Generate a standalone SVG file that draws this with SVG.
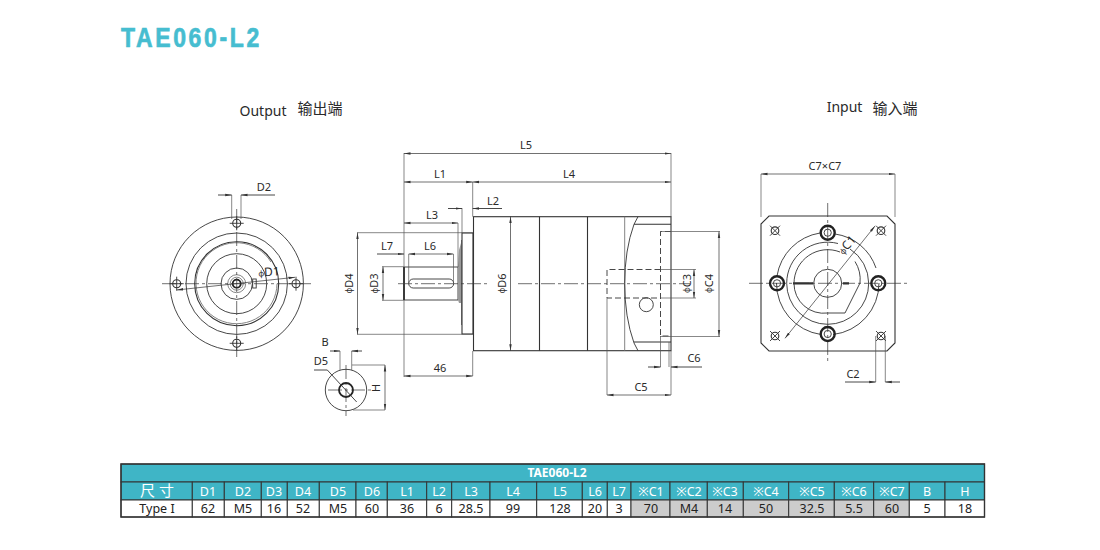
<svg xmlns="http://www.w3.org/2000/svg" width="1100" height="550" viewBox="0 0 1100 550">
<style>
text{font-family:"Noto Sans","Noto Sans CJK SC","DejaVu Sans",sans-serif;fill:#2a2a2a;font-size:11px;text-anchor:middle}
.p{font-size:8px}
.l{fill:none;stroke:#333;stroke-width:.9}
.t{fill:none;stroke:#222;stroke-width:1.8}
.m{fill:none;stroke:#333;stroke-width:1.1}
.g{fill:none;stroke:#777;stroke-width:.9}
.c{fill:none;stroke:#333;stroke-width:.7;stroke-dasharray:14 3 3 3}
.d{fill:none;stroke:#333;stroke-width:.9;stroke-dasharray:6 3}
.dim{fill:none;stroke:#333;stroke-width:.7;marker-start:url(#a);marker-end:url(#a)}
.e{fill:none;stroke:#555;stroke-width:.7}
.h{fill:#3fb5c6;stroke:#333;stroke-width:1}
.w{fill:#fff;stroke:#333;stroke-width:1}
.y{fill:#ccc;stroke:#333;stroke-width:1}
.ht{fill:#fff;font-size:12.500px}
.bt{fill:#222;font-size:12.500px}
</style>
<defs>
<marker id="a" markerWidth="7" markerHeight="4" refX="6.5" refY="2" orient="auto-start-reverse" markerUnits="userSpaceOnUse"><path d="M0 .8L6.5 2L0 3.2z" fill="#333"/></marker>
<g id="hole"><circle r="4" class="m"/><path d="M-7 0H7M0-7V7" class="l"/></g>
<g id="bolt"><circle r="7" fill="none" stroke="#222" stroke-width="2.4"/><circle r="3.6" class="l"/></g>
<g id="cross"><circle r="3.8" class="m"/><path d="M-5-5L5 5M-5 5L5-5" class="l"/></g>
</defs>

<g id="title"><text transform="translate(121 47) scale(.82 1)" style="font-family:'Liberation Sans',sans-serif;font-weight:700;font-size:28px;fill:#46bdd0;stroke:#46bdd0;stroke-width:.7;text-anchor:start;letter-spacing:3.250px">TAE060-L2</text></g>

<g id="output-label"><text x="263" y="115.500" style="font-size:14px">Output</text><text x="320" y="114" style="font-size:15px">输出端</text></g>
<g id="input-label"><text x="844.500" y="112" style="font-size:14px">Input</text><text x="895" y="114" style="font-size:15px">输入端</text></g>

<g id="front-view">
<circle cx="236.700" cy="283.700" r="66.700" class="l"/>
<circle cx="236.700" cy="283.700" r="50.700" class="l"/>
<circle cx="236.700" cy="283.700" r="42" class="m"/>
<path d="M271 262A40.500 40.500 0 1 0 277 283.700" class="g"/>
<circle cx="236.700" cy="283.700" r="30" class="l"/>
<circle cx="236.700" cy="283.700" r="15.700" class="l"/>
<circle cx="236.700" cy="283.700" r="9" class="g"/>
<circle cx="236.700" cy="283.700" r="6.500" class="g"/>
<circle cx="236.700" cy="283.700" r="4" class="t"/>
<path d="M162 283.700H311M236.700 209V357" class="c"/>
<use href="#hole" x="236.700" y="223.300"/><use href="#hole" x="236.700" y="343.300"/><use href="#hole" x="176.700" y="283.700"/><use href="#hole" x="296" y="283.700"/>
<rect x="252.700" y="279" width="3.500" height="9" class="l"/>
<path d="M231.700 195V219M241 195V219" class="e"/>
<path d="M218 195H231.700" class="l" marker-end="url(#a)"/><path d="M275 195H241" class="l" marker-end="url(#a)"/>
<text x="264" y="191">D2</text>
<path d="M176.700 290L295 277.300" class="dim"/>
<text x="269" y="276" transform="rotate(-3 269 272)" style="font-size:12px"><tspan class="p">φ</tspan>D1</text>
</g>

<g id="shaft-end-view">
<circle cx="346" cy="390" r="20.700" class="l"/>
<circle cx="346" cy="390" r="7" class="t"/>
<path d="M328 390H373M346 365V416" class="c"/>
<path d="M340 351V370M351.700 351V370" class="e"/>
<path d="M330 351H340" class="l" marker-end="url(#a)"/><path d="M362 351H351.700" class="l" marker-end="url(#a)"/>
<text x="325" y="346">B</text>
<path d="M314 370H327.300L356.700 402" class="l"/>
<text x="321" y="365">D5</text>
<path d="M352 365H385M353 410H385" class="e"/>
<path d="M385 365V410" class="dim"/>
<text x="377" y="388" transform="rotate(-90 377 388)" dominant-baseline="middle">H</text>
</g>

<g id="side-view">
<path d="M404 267H458V300H404z" class="l"/>
<path d="M404 267V300" class="t"/>
<rect x="408.700" y="279" width="45" height="9" rx="4.500" class="l"/>
<path d="M461 243V303H459L458 300V267L459 250z" fill="#999"/>
<path d="M461.500 240V325" class="g"/>
<path d="M462 233H473V334H462z" class="m"/>
<rect x="473.500" y="216.700" width="197.500" height="134" class="m"/>
<path d="M539.500 216.700V350.700M587.500 216.700V350.700" class="m"/>
<path d="M624.700 216.700V350.700" class="g"/>
<path d="M638 216.700L634 224.300Q624.700 250 624.700 283.700Q624.700 317 634 343L638 350.700" class="l"/>
<path d="M634 224.300H671M634 342H671" class="m"/>
<circle cx="646.300" cy="304.700" r="7" class="l"/>
<path d="M671 231.500H660.500V336H671" class="d"/>
<path d="M660.500 269.500H607V298H660.500" class="d"/>
<path d="M398 283.700H490M518 283.700H690" class="c"/>
</g>

<g id="connectors">
<path d="M404 153V377M671 153V216.700M472.700 182V216.700M472.700 351V376M462 208V233M458 223V267" class="e"/>
<path d="M404 153.500H671" class="dim"/><text x="526" y="149">L5</text>
<path d="M404 182H472.700" class="dim"/><text x="440" y="177.500">L1</text>
<path d="M472.700 182H671" class="dim"/><text x="569" y="177.500">L4</text>
<path d="M448 208.500H462" class="l" marker-end="url(#a)"/><path d="M502 208.500H472.700" class="l" marker-end="url(#a)"/><text x="493" y="204.500">L2</text>
<path d="M404 223H458" class="dim"/><text x="432" y="218.500">L3</text>
<path d="M377 254H404" class="l" marker-end="url(#a)"/><path d="M408.700 254H453.300" class="dim"/><text x="387" y="250">L7</text><text x="430" y="250">L6</text>
<path d="M408.700 254V283M453.500 254V283" class="e"/>
<path d="M357 232.700H473M357 334.300H473" class="e"/>
<path d="M357.500 232.700V334.300" class="dim"/><text x="350" y="283.500" transform="rotate(-90 350 283.500)" dominant-baseline="middle"><tspan class="p">φ</tspan>D4</text>
<path d="M382 266.700H404M382 300.300H404" class="e"/>
<path d="M383 266.700V300.300" class="dim"/><text x="375.500" y="283.500" transform="rotate(-90 375.500 283.500)" dominant-baseline="middle"><tspan class="p">φ</tspan>D3</text>
<path d="M510.500 216.700V350.700" class="dim"/><text x="503" y="283.500" transform="rotate(-90 503 283.500)" dominant-baseline="middle"><tspan class="p">φ</tspan>D6</text>
<path d="M404 376H472.700" class="dim"/><text x="440" y="372">46</text>
<path d="M660 269.500H696M660 298H696M660 231.500H720M660 336.500H720" class="e"/>
<path d="M694 269.500V298" class="dim"/><text x="688" y="283.500" transform="rotate(-90 688 283.500)" dominant-baseline="middle"><tspan class="p">φ</tspan>C3</text>
<path d="M719 231.500V336.500" class="dim"/><text x="710" y="283.500" transform="rotate(-90 710 283.500)" dominant-baseline="middle"><tspan class="p">φ</tspan>C4</text>
<path d="M607 298V395M671 350.700V395M660.500 336V367M669 342V367" class="e"/>
<path d="M607 395H671" class="dim"/><text x="641" y="391">C5</text>
<path d="M648 367H660.500" class="l" marker-end="url(#a)"/><path d="M702 367H671" class="l" marker-end="url(#a)"/><text x="694" y="362">C6</text>
</g>

<g id="input-view">
<path d="M769 216H887L895 224V343L887 351H769L761 343V224z" class="m"/>
<path d="M835 234A50.700 50.700 0 0 1 876 268M879 283A51.700 51.700 0 0 1 833 334.500M821 334.500A51.700 51.700 0 0 1 776.500 283M777 276A51.700 51.700 0 0 1 820 233" class="l"/>
<path d="M850 249A41 41 0 0 1 868.700 283.300A41 41 0 0 1 786.700 283.300A41 41 0 0 1 838 243.500" class="l"/>
<path d="M855 261.500A33.700 33.700 0 0 1 860 283L845 313H827.700A29.700 29.700 0 0 1 794 283.300A33.700 33.700 0 0 1 840 252" class="l"/>
<circle cx="827.700" cy="283.300" r="14" class="l"/>
<path d="M793 283.300H813M843 283.300H849" fill="none" stroke="#333" stroke-width="2.200"/>
<path d="M749 283.300H907M827.700 203V363" class="c"/>
<use href="#bolt" x="827.700" y="232.700"/><use href="#bolt" x="827.700" y="334"/><use href="#bolt" x="777" y="283.300"/><use href="#bolt" x="878.300" y="283.300"/>
<use href="#cross" x="775" y="230.700"/><use href="#cross" x="881" y="230.700"/><use href="#cross" x="775" y="336"/><use href="#cross" x="881" y="336"/>
<path d="M761 174V217M895 174V217" class="e"/>
<path d="M761 174H895" class="dim"/><text x="825" y="170">C7×C7</text>
<path d="M785 338.300L875 226" class="dim"/><text x="847" y="249" transform="rotate(-48 847 245)" style="font-size:12px"><tspan class="p">φ</tspan>C1</text>
<path d="M875.700 336V382M885.300 336V382" class="e"/>
<path d="M845 382H875.700" class="l" marker-end="url(#a)"/><path d="M900 382H885.300" class="l" marker-end="url(#a)"/><text x="853" y="378">C2</text>
</g>

<g id="spec-table">
<rect x="121" y="464" width="863.500" height="18" class="h"/>
<rect x="121" y="482" width="71.300" height="18" class="h"/><rect x="192.300" y="482" width="32" height="18" class="h"/><rect x="224.300" y="482" width="37" height="18" class="h"/><rect x="261.300" y="482" width="26" height="18" class="h"/><rect x="287.300" y="482" width="32" height="18" class="h"/><rect x="319.300" y="482" width="36.700" height="18" class="h"/><rect x="356" y="482" width="31.300" height="18" class="h"/><rect x="387.300" y="482" width="39.400" height="18" class="h"/><rect x="426.700" y="482" width="25" height="18" class="h"/><rect x="451.700" y="482" width="38.300" height="18" class="h"/><rect x="490" y="482" width="46.700" height="18" class="h"/><rect x="536.700" y="482" width="45.600" height="18" class="h"/><rect x="582.300" y="482" width="25" height="18" class="h"/><rect x="607.300" y="482" width="23.700" height="18" class="h"/><rect x="631" y="482" width="39" height="18" class="h"/><rect x="670" y="482" width="37.300" height="18" class="h"/><rect x="707.300" y="482" width="36" height="18" class="h"/><rect x="743.300" y="482" width="45.400" height="18" class="h"/><rect x="788.700" y="482" width="45.600" height="18" class="h"/><rect x="834.300" y="482" width="39.400" height="18" class="h"/><rect x="873.700" y="482" width="35.600" height="18" class="h"/><rect x="909.300" y="482" width="35.700" height="18" class="h"/><rect x="945" y="482" width="39.500" height="18" class="h"/>
<rect x="121" y="500" width="71.300" height="17" class="w"/><rect x="192.300" y="500" width="32" height="17" class="w"/><rect x="224.300" y="500" width="37" height="17" class="w"/><rect x="261.300" y="500" width="26" height="17" class="w"/><rect x="287.300" y="500" width="32" height="17" class="w"/><rect x="319.300" y="500" width="36.700" height="17" class="w"/><rect x="356" y="500" width="31.300" height="17" class="w"/><rect x="387.300" y="500" width="39.400" height="17" class="w"/><rect x="426.700" y="500" width="25" height="17" class="w"/><rect x="451.700" y="500" width="38.300" height="17" class="w"/><rect x="490" y="500" width="46.700" height="17" class="w"/><rect x="536.700" y="500" width="45.600" height="17" class="w"/><rect x="582.300" y="500" width="25" height="17" class="w"/><rect x="607.300" y="500" width="23.700" height="17" class="w"/><rect x="631" y="500" width="39" height="17" class="y"/><rect x="670" y="500" width="37.300" height="17" class="y"/><rect x="707.300" y="500" width="36" height="17" class="y"/><rect x="743.300" y="500" width="45.400" height="17" class="y"/><rect x="788.700" y="500" width="45.600" height="17" class="y"/><rect x="834.300" y="500" width="39.400" height="17" class="y"/><rect x="873.700" y="500" width="35.600" height="17" class="y"/><rect x="909.300" y="500" width="35.700" height="17" class="w"/><rect x="945" y="500" width="39.500" height="17" class="w"/>
<rect x="121" y="464" width="863.500" height="53" fill="none" stroke="#333" stroke-width="1.400"/>
<text x="557" y="477" style="fill:#fff;font-size:12px;font-weight:700">TAE060-L2</text>
<g class="hdr">
<text class="ht" x="157" y="496" style="font-size:15px" xml:space="preserve">尺 寸</text>
<text class="ht" x="208" y="495.500">D1</text><text class="ht" x="243" y="495.500">D2</text><text class="ht" x="274" y="495.500">D3</text><text class="ht" x="303" y="495.500">D4</text><text class="ht" x="338" y="495.500">D5</text><text class="ht" x="372" y="495.500">D6</text><text class="ht" x="407" y="495.500">L1</text><text class="ht" x="439" y="495.500">L2</text><text class="ht" x="471" y="495.500">L3</text><text class="ht" x="513" y="495.500">L4</text><text class="ht" x="560" y="495.500">L5</text><text class="ht" x="595" y="495.500">L6</text><text class="ht" x="619" y="495.500">L7</text><text class="ht" x="651" y="495.500">※C1</text><text class="ht" x="689" y="495.500">※C2</text><text class="ht" x="725" y="495.500">※C3</text><text class="ht" x="766" y="495.500">※C4</text><text class="ht" x="812" y="495.500">※C5</text><text class="ht" x="854" y="495.500">※C6</text><text class="ht" x="892" y="495.500">※C7</text><text class="ht" x="927" y="495.500">B</text><text class="ht" x="965" y="495.500">H</text>
</g>
<g class="vals">
<text class="bt" x="157" y="513">Type I</text><text class="bt" x="208" y="513">62</text><text class="bt" x="243" y="513">M5</text><text class="bt" x="274" y="513">16</text><text class="bt" x="303" y="513">52</text><text class="bt" x="338" y="513">M5</text><text class="bt" x="372" y="513">60</text><text class="bt" x="407" y="513">36</text><text class="bt" x="439" y="513">6</text><text class="bt" x="471" y="513">28.5</text><text class="bt" x="513" y="513">99</text><text class="bt" x="560" y="513">128</text><text class="bt" x="595" y="513">20</text><text class="bt" x="619" y="513">3</text><text class="bt" x="651" y="513">70</text><text class="bt" x="689" y="513">M4</text><text class="bt" x="725" y="513">14</text><text class="bt" x="766" y="513">50</text><text class="bt" x="812" y="513">32.5</text><text class="bt" x="854" y="513">5.5</text><text class="bt" x="892" y="513">60</text><text class="bt" x="927" y="513">5</text><text class="bt" x="965" y="513">18</text>
</g>
</g>
</svg>
